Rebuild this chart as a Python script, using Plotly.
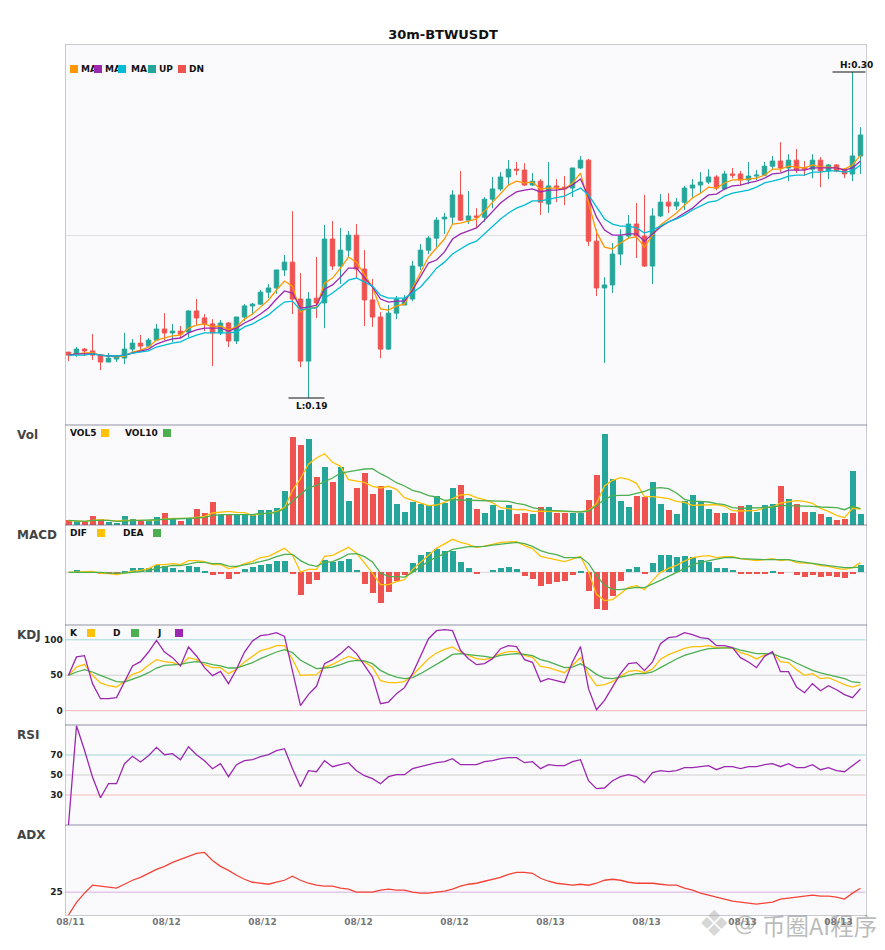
import plotly.graph_objects as go
from plotly.subplots import make_subplots

title = "30m-BTWUSDT"
tick_pos = [0, 12, 24, 36, 48, 60, 72, 84, 96]
tick_labels = ["08/11", "08/12", "08/12", "08/12", "08/12", "08/13", "08/13", "08/13", "08/13"]

opens = [
    .2053, .2047, .2063, .2057, .2043, .2020, .2030, .2033, .2063, .2083,
    .2073, .2093, .2130, .2117, .2123, .2120, .2190, .2167, .2147, .2117,
    .2150, .2090, .2170, .2207, .2213, .2253, .2267, .2327, .2353, .2230,
    .2023, .2233, .2217, .2430, .2340, .2393, .2443, .2330, .2227, .2170,
    .2063, .2183, .2210, .2230, .2340, .2393, .2433, .2497, .2503, .2577,
    .2493, .2507, .2503, .2563, .2597, .2637, .2663, .2660, .2610, .2623,
    .2547, .2607, .2603, .2600, .2667, .2693, .2423, .2267, .2277, .2380,
    .2440, .2480, .2440, .2340, .2507, .2553, .2540, .2553, .2600, .2610,
    .2620, .2637, .2597, .2647, .2647, .2627, .2640, .2643, .2673, .2690,
    .2667, .2693, .2667, .2663, .2693, .2657, .2677, .2660, .2647, .2707,
]
highs = [
    .2053, .2070, .2067, .2113, .2047, .2050, .2043, .2117, .2097, .2110,
    .2100, .2147, .2183, .2147, .2140, .2193, .2230, .2180, .2163, .2160,
    .2153, .2170, .2213, .2217, .2260, .2280, .2327, .2377, .2523, .2317,
    .2253, .2370, .2477, .2490, .2467, .2457, .2480, .2393, .2297, .2187,
    .2210, .2240, .2243, .2357, .2413, .2440, .2503, .2517, .2593, .2657,
    .2590, .2533, .2570, .2637, .2653, .2693, .2687, .2683, .2650, .2630,
    .2687, .2630, .2640, .2667, .2707, .2697, .2463, .2303, .2417, .2463,
    .2510, .2550, .2577, .2533, .2580, .2583, .2567, .2607, .2630, .2653,
    .2663, .2643, .2657, .2667, .2657, .2687, .2660, .2687, .2707, .2753,
    .2713, .2730, .2690, .2713, .2703, .2680, .2680, .2667, .2987, .2803,
]
lows = [
    .2023, .2037, .2040, .2027, .1993, .2020, .2020, .2013, .2053, .2057,
    .2070, .2093, .2093, .2087, .2100, .2103, .2143, .2123, .2007, .2110,
    .2070, .2080, .2157, .2177, .2210, .2233, .2247, .2307, .2180, .2003,
    .1900, .2167, .2133, .2327, .2280, .2367, .2300, .2140, .2137, .2033,
    .2060, .2163, .2210, .2223, .2327, .2380, .2403, .2447, .2480, .2490,
    .2480, .2467, .2487, .2533, .2590, .2607, .2643, .2607, .2607, .2510,
    .2517, .2553, .2543, .2570, .2663, .2407, .2240, .2017, .2250, .2343,
    .2430, .2367, .2337, .2280, .2503, .2517, .2527, .2527, .2567, .2583,
    .2613, .2593, .2593, .2633, .2610, .2613, .2627, .2640, .2660, .2653,
    .2623, .2650, .2640, .2633, .2603, .2630, .2653, .2633, .2623, .2647,
]
closes = [
    .2043, .2063, .2057, .2043, .2020, .2033, .2037, .2063, .2083, .2073,
    .2093, .2130, .2117, .2123, .2113, .2190, .2167, .2147, .2117, .2150,
    .2090, .2170, .2207, .2213, .2253, .2267, .2327, .2353, .2230, .2023,
    .2230, .2217, .2430, .2340, .2393, .2443, .2330, .2227, .2170, .2063,
    .2183, .2230, .2230, .2340, .2393, .2433, .2493, .2503, .2577, .2493,
    .2507, .2503, .2563, .2597, .2637, .2663, .2660, .2610, .2623, .2553,
    .2607, .2603, .2597, .2667, .2693, .2423, .2267, .2277, .2380, .2440,
    .2480, .2440, .2340, .2507, .2553, .2540, .2553, .2600, .2610, .2620,
    .2637, .2600, .2647, .2643, .2627, .2640, .2643, .2673, .2690, .2667,
    .2693, .2660, .2663, .2693, .2657, .2677, .2657, .2647, .2707, .2777,
]
ma5 = [
    .2043, .2047, .2050, .2050, .2043, .2040, .2037, .2040, .2053, .2060,
    .2070, .2093, .2100, .2107, .2110, .2133, .2143, .2147, .2137, .2140,
    .2127, .2137, .2163, .2180, .2203, .2227, .2260, .2290, .2273, .2187,
    .2200, .2203, .2283, .2300, .2333, .2370, .2353, .2310, .2270, .2197,
    .2193, .2207, .2213, .2267, .2320, .2370, .2400, .2430, .2480, .2483,
    .2490, .2497, .2523, .2553, .2583, .2610, .2623, .2617, .2620, .2597,
    .2600, .2600, .2597, .2617, .2650, .2550, .2453, .2403, .2397, .2417,
    .2433, .2437, .2403, .2443, .2477, .2497, .2517, .2543, .2567, .2583,
    .2603, .2600, .2617, .2627, .2627, .2630, .2633, .2643, .2663, .2663,
    .2673, .2670, .2667, .2677, .2670, .2670, .2667, .2663, .2677, .2710,
]
ma10 = [
    .2043, .2047, .2047, .2047, .2043, .2040, .2040, .2043, .2050, .2057,
    .2063, .2080, .2090, .2097, .2100, .2117, .2127, .2133, .2133, .2133,
    .2123, .2133, .2150, .2163, .2180, .2200, .2230, .2257, .2250, .2200,
    .2203, .2210, .2263, .2277, .2303, .2333, .2333, .2303, .2270, .2230,
    .2220, .2223, .2223, .2260, .2303, .2350, .2360, .2387, .2430, .2447,
    .2457, .2467, .2493, .2520, .2550, .2570, .2587, .2593, .2597, .2587,
    .2593, .2593, .2597, .2610, .2630, .2570, .2503, .2460, .2443, .2443,
    .2447, .2447, .2423, .2447, .2470, .2487, .2500, .2517, .2533, .2557,
    .2577, .2580, .2597, .2607, .2610, .2617, .2623, .2633, .2647, .2650,
    .2660, .2660, .2660, .2667, .2667, .2667, .2667, .2660, .2667, .2690,
]
ma20 = [
    .2043, .2043, .2043, .2047, .2043, .2040, .2040, .2043, .2050, .2053,
    .2057, .2070, .2077, .2083, .2087, .2100, .2110, .2117, .2117, .2117,
    .2117, .2120, .2137, .2147, .2163, .2177, .2200, .2220, .2223, .2193,
    .2200, .2200, .2233, .2250, .2270, .2293, .2300, .2287, .2273, .2243,
    .2233, .2233, .2233, .2250, .2270, .2300, .2333, .2353, .2380, .2397,
    .2413, .2423, .2447, .2470, .2497, .2517, .2533, .2543, .2557, .2557,
    .2563, .2567, .2573, .2587, .2600, .2577, .2537, .2497, .2480, .2473,
    .2473, .2467, .2450, .2460, .2473, .2487, .2497, .2510, .2527, .2540,
    .2553, .2557, .2573, .2583, .2587, .2593, .2603, .2617, .2623, .2630,
    .2640, .2643, .2643, .2653, .2653, .2657, .2657, .2653, .2657, .2677,
]
vol = [
    4.7, 3.7, 3.7, 8.7, 5.7, 2.7, 1.7, 8.7, 5.7, 3.7,
    4.7, 7.7, 11.7, 6.7, 3.7, 6.7, 15.7, 11.7, 22.7, 9.7,
    9.7, 9.7, 9.7, 9.7, 14.7, 14.7, 16.7, 33.7, 87.7, 79.7,
    85.7, 47.7, 57.7, 42.7, 57.7, 23.7, 36.7, 51.7, 30.7, 38.7,
    34.7, 20.7, 12.7, 22.7, 20.7, 19.7, 28.7, 21.7, 36.7, 39.7,
    26.7, 15.7, 11.7, 19.7, 14.7, 19.7, 10.7, 11.7, 10.7, 17.7,
    17.7, 11.7, 11.7, 11.7, 11.7, 24.7, 49.7, 90.7, 45.7, 23.7,
    17.7, 28.7, 27.7, 42.7, 20.7, 14.7, 10.7, 23.7, 29.7, 23.7,
    15.7, 11.7, 11.7, 11.7, 18.7, 19.7, 12.7, 19.7, 20.7, 38.7,
    25.7, 20.7, 12.7, 12.7, 10.7, 7.7, 4.7, 5.7, 53.7, 10.7,
]
vol5 = [
    4.3, 3.7, 3.7, 4.7, 5.3, 4.7, 4.0, 4.7, 5.0, 4.7,
    4.3, 5.3, 6.3, 6.7, 6.7, 6.7, 7.7, 8.7, 12.0, 13.0,
    13.7, 12.7, 12.3, 9.7, 11.3, 11.7, 13.3, 17.3, 34.7, 46.3,
    61.0, 67.0, 71.3, 62.7, 58.7, 45.3, 43.7, 42.7, 38.7, 37.0,
    38.7, 35.7, 27.3, 24.7, 22.0, 19.3, 20.0, 22.7, 26.3, 30.0,
    30.7, 27.3, 25.3, 22.3, 17.3, 16.0, 15.3, 15.7, 13.7, 13.7,
    13.7, 13.3, 13.3, 13.0, 13.3, 14.3, 21.3, 39.0, 44.7, 47.3,
    45.7, 41.7, 28.3, 28.3, 27.7, 26.3, 23.7, 22.7, 19.7, 20.0,
    20.0, 20.3, 18.7, 14.3, 14.0, 14.0, 14.7, 17.3, 18.0, 22.0,
    23.3, 24.3, 23.7, 21.7, 16.7, 13.7, 9.7, 7.3, 16.7, 16.0,
]
vol10 = [
    4.7, 4.0, 3.7, 4.7, 4.7, 4.7, 3.7, 4.0, 4.7, 5.0,
    5.0, 5.3, 5.7, 5.7, 6.0, 6.3, 7.0, 7.7, 9.7, 10.3,
    10.3, 10.3, 10.7, 10.3, 11.7, 11.7, 12.7, 16.3, 24.0, 30.7,
    37.3, 39.7, 43.7, 47.0, 52.0, 53.0, 54.7, 56.0, 56.3, 51.3,
    47.3, 42.3, 39.0, 34.7, 32.7, 29.3, 28.0, 24.7, 25.3, 25.0,
    24.7, 24.3, 24.3, 23.7, 23.7, 23.7, 21.7, 20.3, 17.3, 15.7,
    14.3, 14.3, 14.0, 13.3, 13.0, 14.0, 19.3, 25.7, 29.3, 29.7,
    29.7, 31.7, 33.7, 36.7, 37.3, 36.3, 32.0, 25.7, 23.7, 23.7,
    23.0, 21.3, 20.3, 17.3, 16.7, 17.0, 17.0, 17.3, 18.0, 19.3,
    19.3, 19.3, 19.3, 18.7, 18.0, 17.3, 17.3, 15.3, 18.7, 16.3,
]
macd_hist = [
    0, 2, .3, 0, -1, -.7, -2, 1, 4, 4,
    4, 7, 6, 4, 2, 6, 5, 1, -3, -2,
    -7, -2, 3, 5, 7, 8, 11, 11, -1, -23,
    -12, -8, 12, 10, 11, 13, 2, -12, -21, -31,
    -20, -9, -3, 9, 17, 20, 23, 21, 21, 10,
    4, -1, 0, 2, 4, 5, 3, -4, -7, -14,
    -12, -10, -9, -3, 1, -19, -37, -38, -24, -9,
    3, 5, -2, 9, 17, 17, 15, 16, 15, 12,
    10, 4, 4, 2, -1, -2, -2, -1, 1, -1,
    0, -3, -5, -3, -5, -4, -5, -6, -1, 7,
]
dif = [
    0, .7, .7, 1, -1, -1.3, -2.3, -.7, 1.3, 2,
    3.7, 7.7, 7.7, 8.7, 7.7, 11.7, 11.7, 10.7, 7.7, 8,
    3.7, 5.3, 8.7, 11, 14.7, 16, 20.3, 24, 17, .3,
    3, 3, 16, 17, 21, 25, 19.3, 9.7, -.7, -12.3,
    -12.3, -9.3, -7.3, 2.7, 10.3, 17, 24, 28.7, 33, 30,
    28, 24.7, 26, 28, 30, 30.7, 30.7, 26.7, 23.7, 16,
    14, 12.7, 10.7, 13.3, 16, .3, -22, -28.3, -27.3, -21.3,
    -15, -13.3, -17.3, -8, 0, 4, 7, 11.3, 14.7, 16,
    16.7, 14.7, 15.7, 15.7, 13.7, 12.7, 11.7, 12.7, 13.7, 11.7,
    12.7, 9.7, 9, 8.7, 6.7, 6, 4, 3, 4.7, 9.7,
]
dea = [
    0, 0, .7, .7, 0, -.7, -1, -.7, 0, 1,
    1.7, 4, 5.7, 7, 6.7, 8.7, 10, 10, 8.7, 8.7,
    6.3, 6, 7.3, 9, 10.7, 12.7, 15.7, 18, 18, 11.7,
    7.7, 6, 10, 10.7, 14, 18.3, 18.7, 15.7, 10.3, -.7,
    -4, -4.7, -4.7, 0, 5.3, 11, 15.3, 18.7, 23, 24.7,
    25.7, 25.7, 26, 27.3, 28.3, 29, 30, 28.7, 26, 21.7,
    19.3, 17.7, 14.7, 14.7, 15, 9, -3, -13, -17, -17.3,
    -16, -15, -15.3, -12, -8, -4, 0, 4, 7.7, 10,
    12, 13.3, 14.7, 15, 13.7, 13.3, 12.7, 12.7, 12.7, 12.7,
    12.7, 11.3, 10, 9, 8, 6.7, 5.7, 4.7, 4.7, 5.3,
]
k_line = [
    49.9, 61.6, 65.4, 49.9, 39.1, 35.3, 33.4, 41.4, 51.3, 55.1,
    64, 72, 69.2, 67.8, 64, 74.8, 72, 64.9, 60.7, 60.7,
    52.2, 58.4, 68.7, 76.7, 84.7, 87.5, 91.8, 91.8, 72.5, 49.9,
    50.8, 50.8, 61.6, 65.4, 71.1, 76.7, 72.9, 68.7, 61.2, 42.4,
    39.5, 39.5, 41, 49.9, 61.6, 73.4, 81.4, 86.6, 90, 82.8,
    78.1, 73.4, 72, 74.8, 80.5, 83.3, 83.3, 78.1, 75.3, 62.6,
    60.7, 56.9, 53.6, 64, 74.8, 51.3, 35.3, 36.7, 41, 48.5,
    55.5, 56.9, 53.6, 58.8, 72.5, 79.1, 83.8, 88, 90.4, 90.4,
    91.8, 89, 89, 88, 81.9, 78.6, 73, 78.6, 81.9, 69.2,
    67.8, 57.9, 49.9, 52.2, 45.2, 46.6, 41.9, 36.7, 33.4, 36.7,
]
d_line = [
    49.9, 54.6, 57.9, 54.6, 49.9, 45.2, 40.9, 40.5, 44.2, 48.5,
    53.6, 60.2, 64, 64.9, 65.4, 67.8, 69.2, 67.8, 64.9, 63.1,
    60.2, 60.2, 64, 67.8, 73.4, 78.6, 82.8, 86.1, 81.9, 71.1,
    64.9, 59.3, 60.2, 61.6, 64.9, 69.2, 71.1, 70.1, 66.4, 56.9,
    51.3, 47.5, 45.2, 46.6, 52.2, 58.4, 64.9, 72, 79.5, 80.5,
    79.1, 78.1, 76.7, 74.8, 78.1, 79.5, 80.5, 79.5, 77.6, 72,
    69.2, 64.9, 60.7, 61.6, 66.4, 59.3, 51.3, 46.1, 45.2, 47.5,
    49.9, 52.2, 52.2, 54.6, 60.7, 67.3, 72.9, 78.1, 81.9, 84.7,
    87.5, 88, 88, 88.9, 85.6, 82.8, 80.5, 80.5, 80.5, 75.8,
    72.9, 67.3, 61.6, 56.9, 53.2, 50.4, 47.5, 45.2, 40.5, 39.5,
]
j_line = [
    49.9, 75.8, 77.6, 38.1, 16.9, 16.9, 18.4, 40.5, 63.1, 69.2,
    82.8, 99.3, 82.8, 74.8, 63.1, 89.9, 77.2, 60.7, 49.4, 55.5,
    38.1, 58.4, 82.8, 98.4, 105.9, 107.3, 110.1, 104.9, 56.9, 7.1,
    23.1, 34.4, 66.4, 72, 80.5, 90.8, 80.5, 64, 47.5, 9.9,
    12.2, 24, 32.5, 52.2, 76.7, 101.6, 112.9, 114.4, 112.9, 85.2,
    73.4, 64.9, 66.4, 73.4, 87.5, 91.8, 90.4, 72, 68.2, 40.9,
    45.2, 42.8, 39.5, 68.7, 90.4, 31.1, 1.4, 14.6, 33.4, 52.2,
    66.4, 67.8, 56.5, 68.7, 94.6, 103.1, 104.5, 110.1, 107.3, 103.1,
    101.6, 91.8, 91.8, 88.9, 74.8, 68.7, 60.7, 76.7, 83.3, 55.1,
    55.1, 33.4, 25.4, 38.1, 28.2, 35.3, 29.6, 22.6, 18.4, 31.1,
]
rsi = [
    0, 99.3, 74.7, 48, 27.3, 41.3, 41.3, 61.3, 68.7, 63,
    69.3, 77.7, 70.3, 71.3, 65.3, 78.3, 70.3, 64.3, 56.3, 61.3,
    48.3, 60.3, 64.3, 65.3, 68.3, 70.3, 74.3, 76.3, 56.3, 38.3,
    54.3, 53.3, 64.3, 58.3, 60.3, 62.3, 54.3, 49.3, 46.3, 41.3,
    48.3, 50.3, 50.3, 56.3, 58.3, 60.3, 62.3, 63.3, 66.3, 60.3,
    60.3, 60.3, 63.3, 64.3, 66.3, 67.3, 67.3, 62.3, 63.3, 56.3,
    60.3, 59.3, 59.3, 63.3, 65.3, 44.3, 36.3, 37, 44.3, 48.3,
    50.3, 48.3, 42.3, 52.3, 54.3, 53.3, 54.3, 57.3, 57.3, 58.3,
    59.3, 55.3, 58.3, 58.3, 56.3, 58.3, 58.3, 60.3, 61.3, 58.3,
    61.3, 57.3, 57.3, 60.3, 55.3, 57.3, 54.3, 53.3, 59.3, 65.3,
]
adx = [
    11.2, 18.8, 24.4, 29.2, 28.6, 28, 27.4, 29.8, 32.2, 34,
    36.4, 38.8, 40.6, 43, 44.8, 46.6, 48.4, 49, 44.2, 40.6,
    38.2, 35.2, 32.8, 31, 30.4, 29.8, 31, 32.2, 34.6, 32.2,
    30.4, 29.2, 28.6, 28.6, 27.4, 26.8, 25, 25, 25, 26.2,
    26.8, 26.2, 26.2, 25, 24.4, 24.4, 25, 25.6, 26.8, 28.6,
    29.8, 30.4, 31.6, 32.8, 34, 35.8, 37, 37, 36.4, 33.4,
    31.6, 30.4, 29.8, 29.2, 29.8, 29.2, 30.4, 32.2, 32.8, 32.2,
    31, 30.4, 30.4, 30.4, 29.8, 29.2, 29.2, 27.4, 26.2, 24.4,
    23.2, 22, 20.8, 19.6, 19, 18.4, 17.8, 18.4, 19, 20.8,
    21.4, 22, 22.6, 23.2, 22.6, 22.6, 22, 20.8, 24.4, 27.4,
]

UP = "#26A69A"
DN = "#EF5350"
YELLOW = "#FFC107"
GREEN = "#4CAF50"
PURPLE = "#9C27B0"
W, H = 885, 950
LW = 1.3
xs = list(range(len(closes)))

fig = make_subplots(rows=6, cols=1, shared_xaxes=True)

fig.add_trace(go.Candlestick(x=xs, open=opens, high=highs, low=lows, close=closes,
                             increasing=dict(line=dict(color=UP, width=1), fillcolor=UP),
                             decreasing=dict(line=dict(color=DN, width=1), fillcolor=DN),
                             whiskerwidth=0), row=1, col=1)
for vals, color in [(ma5, "#FF9800"), (ma10, PURPLE), (ma20, "#00BCD4")]:
    fig.add_trace(go.Scatter(x=xs, y=vals, mode="lines", line=dict(color=color, width=LW)), row=1, col=1)

# high / low markers, placed from the data
hi_i = highs.index(max(highs))
lo_i = lows.index(min(lows))
for i, price in [(hi_i, highs[hi_i]), (lo_i, lows[lo_i])]:
    fig.add_trace(go.Scatter(x=[i - 2.5, i + 2], y=[price, price], mode="lines", cliponaxis=False,
                             line=dict(color="#111111", width=1.2)), row=1, col=1)

bar_colors = [UP if c >= o else DN for o, c in zip(opens, closes)]
fig.add_trace(go.Bar(x=xs, y=vol, width=0.75, marker=dict(color=bar_colors, line_width=0)), row=2, col=1)
fig.add_trace(go.Scatter(x=xs, y=vol5, mode="lines", line=dict(color=YELLOW, width=LW)), row=2, col=1)
fig.add_trace(go.Scatter(x=xs, y=vol10, mode="lines", line=dict(color=GREEN, width=LW)), row=2, col=1)

hist_colors = [UP if v >= 0 else DN for v in macd_hist]
fig.add_trace(go.Bar(x=xs, y=macd_hist, width=0.75, marker=dict(color=hist_colors, line_width=0)), row=3, col=1)
fig.add_trace(go.Scatter(x=xs, y=dif, mode="lines", line=dict(color=YELLOW, width=LW)), row=3, col=1)
fig.add_trace(go.Scatter(x=xs, y=dea, mode="lines", line=dict(color=GREEN, width=LW)), row=3, col=1)

fig.add_trace(go.Scatter(x=xs, y=k_line, mode="lines", line=dict(color=YELLOW, width=LW)), row=4, col=1)
fig.add_trace(go.Scatter(x=xs, y=d_line, mode="lines", line=dict(color=GREEN, width=LW)), row=4, col=1)
fig.add_trace(go.Scatter(x=xs, y=j_line, mode="lines", line=dict(color=PURPLE, width=LW)), row=4, col=1)

fig.add_trace(go.Scatter(x=xs, y=rsi, mode="lines", line=dict(color=PURPLE, width=LW)), row=5, col=1)
fig.add_trace(go.Scatter(x=xs, y=adx, mode="lines", line=dict(color="#F44336", width=LW)), row=6, col=1)

# guide lines behind the indicators
GUIDE_UP = "rgba(38,166,154,0.4)"
GUIDE_MID = "rgba(140,140,140,0.4)"
GUIDE_DN = "rgba(239,83,80,0.4)"
for row, levels in [(4, [(100, GUIDE_UP), (50, GUIDE_MID), (0, GUIDE_DN)]),
                    (5, [(70, GUIDE_UP), (50, GUIDE_MID), (30, GUIDE_DN)]),
                    (6, [(25, "rgba(156,39,176,0.35)")])]:
    for level, color in levels:
        fig.add_hline(y=level, line=dict(color=color, width=1), layer="below", row=row, col=1)
fig.add_hline(y=0, line=dict(color="rgba(140,140,140,0.3)", width=1), layer="below", row=3, col=1)

tops = [45, 425, 525, 625, 725, 825]
bottoms = [425, 525, 625, 725, 825, 915]
y_ranges = [[.1810, .3077], [0, 100], [-52.67, 47.33], [-20.2, 120.9], [0, 100], [11.2, 65.6]]
y_ticks = [[.2442], [], [], [0, 50, 100], [30, 50, 70], [25]]
EDGE = "rgba(95,95,120,0.33)"
for n in range(6):
    row = n + 1
    fig.update_yaxes(domain=[1 - bottoms[n] / H, 1 - tops[n] / H], range=y_ranges[n], fixedrange=True,
                     automargin=False, tickvals=y_ticks[n], showticklabels=n >= 3, showgrid=n == 0,
                     gridcolor="#E0E0E4", gridwidth=1, zeroline=False, showline=True, mirror=True,
                     linecolor=EDGE, linewidth=1, ticks="",
                     tickfont=dict(family="DejaVu Sans", size=9, color="#222222", weight="bold"),
                     row=row, col=1)
    fig.update_xaxes(domain=[65.5 / W, 865.5 / W], range=[-0.375, 99.625], fixedrange=True,
                     automargin=False, showgrid=False, zeroline=False, showline=True, mirror=True,
                     linecolor=EDGE, linewidth=1, rangeslider_visible=False, ticks="", row=row, col=1)
fig.update_xaxes(tickmode="array", tickvals=tick_pos, ticktext=tick_labels, showticklabels=True,
                 ticklabelshift=2, ticklabelstandoff=-2,
                 tickfont=dict(family="DejaVu Sans", size=9, color="#777777", weight="bold"),
                 row=6, col=1)


def px_text(x, y, text, size=9, color="#111111", bold=True, anchor="left", family="DejaVu Sans"):
    fig.add_annotation(xref="paper", yref="paper", x=(x - 1) / W, y=1 - y / H, text=f"<b>{text}</b>" if bold else text,
                       showarrow=False, xanchor=anchor, yanchor="middle", borderpad=0,
                       font=dict(family=family, size=size, color=color))


def px_square(x, y, color):
    fig.add_annotation(xref="paper", yref="paper", x=x / W, y=1 - y / H, text=" ", showarrow=False,
                       xanchor="left", yanchor="top", width=8, height=8, bgcolor=color, borderpad=0,
                       borderwidth=0, font=dict(size=1))


# legends: each later key sits on top of the text before it, as in the picture
px_square(70, 65, "#FF9800")
px_text(81, 69, "MA")
px_square(94, 65, PURPLE)
px_text(105, 69, "MA")
px_square(118, 65, "#00BCD4")
px_text(131, 69, "MA")
px_square(148, 65, UP)
px_text(159, 69, "UP")
px_square(178, 65, DN)
px_text(189, 69, "DN")

px_text(70, 433, "VOL5")
px_square(101, 429, YELLOW)
px_text(125, 433, "VOL10")
px_square(163, 429, GREEN)

px_text(70, 533, "DIF")
px_square(97, 529, YELLOW)
px_text(123, 533, "DEA")
px_square(153, 529, GREEN)

px_text(70, 633, "K")
px_square(87, 629, YELLOW)
px_text(113, 633, "D")
px_square(131, 629, GREEN)
px_text(157, 633, "J")
px_square(175, 629, PURPLE)

for label, y in [("Vol", 435), ("MACD", 535), ("KDJ", 635), ("RSI", 735), ("ADX", 835)]:
    px_text(17, y, label, size=12, color="#444444")

fig.add_annotation(xref="x", yref="y", x=hi_i - 1.7, y=highs[hi_i], yshift=1, text=f"<b>H:{highs[hi_i]:.2f}</b>",
                   showarrow=False, xanchor="left", yanchor="bottom", borderpad=0,
                   font=dict(family="DejaVu Sans", size=9, color="#111111"))
fig.add_annotation(xref="x", yref="y", x=lo_i - 1.7, y=lows[lo_i], yshift=-2, text=f"<b>L:{lows[lo_i]:.2f}</b>",
                   showarrow=False, xanchor="left", yanchor="top", borderpad=0,
                   font=dict(family="DejaVu Sans", size=9, color="#111111"))

# watermark in the lower right corner
px_text(698, 923, "❖", size=36, color="rgba(150,150,150,0.38)", bold=False)
px_text(734, 923, "@", size=22, color="rgba(130,130,130,0.5)", bold=False)
px_text(762, 925, "币圈AI程序", size=23.5, color="rgba(120,120,120,0.5)", bold=False, family="Noto Sans CJK SC")

fig.update_layout(
    width=W, height=H, margin=dict(l=0, r=0, t=0, b=0), showlegend=False, bargap=0, boxgap=0.2,
    paper_bgcolor="white", plot_bgcolor="#FAFAFC",
    title=dict(text=f"<b>{title}</b>", x=443 / W, xanchor="center", y=1 - 34 / H, yanchor="middle",
               font=dict(family="DejaVu Sans", size=13, color="#111111")),
)

fig.write_html("out.html", config={"displayModeBar": False}, post_script="document.body.style.margin='0';")
